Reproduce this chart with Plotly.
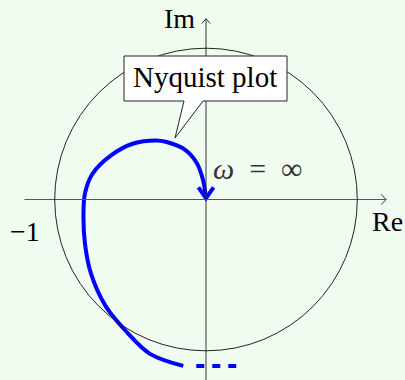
import plotly.graph_objects as go

# Nyquist locus of the open-loop transfer function (Re, Im), from the low-frequency end to omega = infinity
nyq_re = [-0.15, -0.37, -0.52, -0.66, -0.76, -0.80, -0.81, -0.80, -0.75, -0.63, -0.48, -0.33, -0.26, -0.14, -0.06, -0.02, 0.0]
nyq_im = [-1.10, -1.02, -0.88, -0.71, -0.49, -0.29, -0.11, 0.04, 0.17, 0.29, 0.37, 0.39, 0.38, 0.33, 0.24, 0.13, 0.01]

# continuation of the locus towards omega -> 0 (drawn dashed)
tail_re = [-0.15, 0.20]
tail_im = [-1.10, -1.10]

# unit circle and axis extents
circle_r = 1.0
axis_min = -1.2
axis_max = 1.19

BG = "#f1fcf1"
SERIF = "Liberation Serif"

fig = go.Figure()

# axes
fig.add_shape(type="line", x0=axis_min, y0=0, x1=axis_max, y1=0, line=dict(color="#555", width=1))
fig.add_shape(type="line", x0=0, y0=-1.3, x1=0, y1=axis_max + 0.005, line=dict(color="#333", width=1))
# axis arrow heads
fig.add_trace(go.Scatter(x=[axis_max - 0.032, axis_max, axis_max - 0.032], y=[0.034, 0, -0.034],
                         mode="lines", line=dict(color="#333", width=1), hoverinfo="skip"))
fig.add_trace(go.Scatter(x=[-0.028, 0, 0.028], y=[axis_max + 0.005 - 0.032, axis_max + 0.005, axis_max + 0.005 - 0.032],
                         mode="lines", line=dict(color="#333", width=1), hoverinfo="skip"))

# unit circle
fig.add_shape(type="circle", x0=-circle_r, y0=-circle_r, x1=circle_r, y1=circle_r,
              line=dict(color="#222", width=1))

# Nyquist curve
fig.add_trace(go.Scatter(x=nyq_re, y=nyq_im, mode="lines", line=dict(color="#0000ff", width=4, shape="spline", smoothing=1.0),
                         hoverinfo="skip"))
fig.add_trace(go.Scatter(x=tail_re, y=tail_im, mode="lines",
                         line=dict(color="#0000ff", width=4, dash="0px,13px,8px,8px,8px,8px,8px,100px"),
                         hoverinfo="skip"))
# arrow head at omega = infinity
fig.add_trace(go.Scatter(x=[-0.05, 0, 0.05], y=[0.08, 0.008, 0.08], mode="lines",
                         line=dict(color="#0000ff", width=4), hoverinfo="skip"))

# callout box with pointer
u = 151.3
def px(xp, yp):
    return (xp - 206) / u, (199.5 - yp) / u
pts = [px(124, 56), px(287, 56), px(287, 101), px(203, 101), px(175, 138), px(184, 101), px(124, 101)]
path = "M " + " L ".join(f"{a:.4f},{b:.4f}" for a, b in pts) + " Z"
fig.add_shape(type="path", path=path, fillcolor="white", line=dict(color="#222", width=1))

fig.add_annotation(x=-0.005, y=px(0, 77)[1], text="Nyquist plot", showarrow=False,
                   font=dict(family=SERIF, size=29, color="black"))
fig.add_annotation(x=px(179, 0)[0], y=px(0, 18)[1], text="Im", showarrow=False,
                   font=dict(family=SERIF, size=28, color="black"))
fig.add_annotation(x=px(387, 0)[0], y=px(0, 221)[1], text="Re", showarrow=False,
                   font=dict(family=SERIF, size=28, color="black"))
fig.add_annotation(x=px(25, 0)[0], y=px(0, 231)[1], text="−1", showarrow=False,
                   font=dict(family=SERIF, size=28, color="black"))
fig.add_annotation(x=px(258, 0)[0], y=px(0, 168)[1], text="<i>ω</i>\u2002=\u2002∞", showarrow=False,
                   font=dict(family=SERIF, size=30, color="#333"))

fig.update_xaxes(range=[-206 / u, (405 - 206) / u], visible=False, fixedrange=True)
fig.update_yaxes(range=[-(380 - 199.5) / u, 199.5 / u], visible=False, fixedrange=True)
fig.update_layout(width=405, height=380, margin=dict(l=0, r=0, t=0, b=0),
                  paper_bgcolor=BG, plot_bgcolor=BG, showlegend=False)

fig.write_html("out.html", config={"displayModeBar": False})
